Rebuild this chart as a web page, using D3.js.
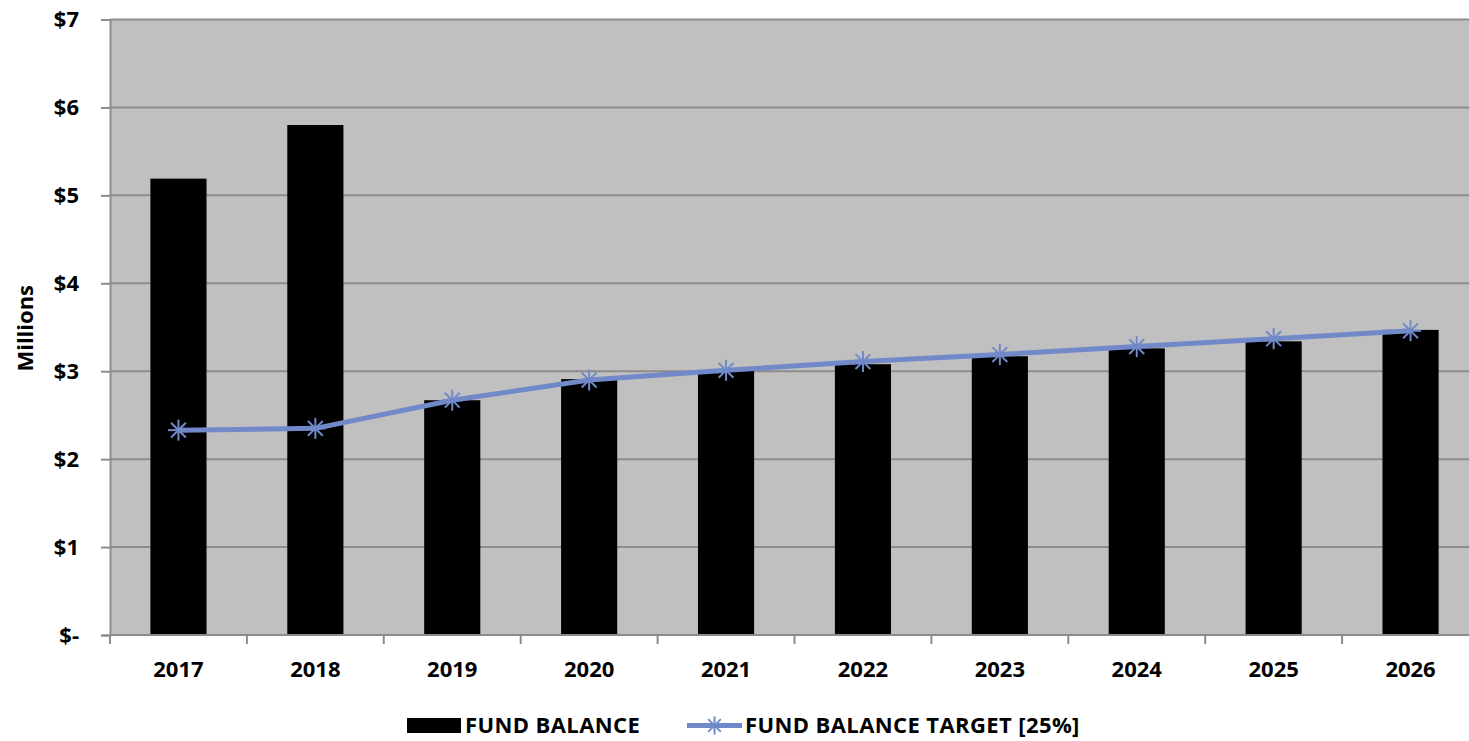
<!DOCTYPE html>
<html>
<head>
<meta charset="utf-8">
<script src="https://cdnjs.cloudflare.com/ajax/libs/d3/7.8.5/d3.min.js"></script>
<style>
  body { margin: 0; background: #fff; }
  text { font-family: "Open Sans", sans-serif; font-weight: bold; fill: #000; }
</style>
</head>
<body>
<div id="chart"></div>
<script>
var width = 1469;
var height = 741;

var years = ["2017", "2018", "2019", "2020", "2021", "2022", "2023", "2024", "2025", "2026"];
// millions
var fundBalance = [5.19, 5.80, 2.67, 2.91, 3.01, 3.08, 3.17, 3.26, 3.34, 3.47];
var fundTarget = [2.33, 2.35, 2.67, 2.90, 3.01, 3.11, 3.19, 3.28, 3.37, 3.46];
var yTicks = [0, 1, 2, 3, 4, 5, 6, 7];

var margin = {left: 110, right: -10, top: 19.5, bottom: 106};

var lineColor = "#7189c9";
var gridColor = "#8c8c8c";

var svg = d3.select("#chart").append("svg")
  .attr("width", width)
  .attr("height", height);

var x = d3.scaleBand()
  .domain(years)
  .range([margin.left, width - margin.right])
  .paddingInner(0.59)
  .paddingOuter(0.295);

var y = d3.scaleLinear()
  .domain([0, 7])
  .range([height - margin.bottom, margin.top]);

// plot background
svg.append("rect")
  .attr("x", margin.left)
  .attr("y", margin.top)
  .attr("width", width - margin.right - margin.left)
  .attr("height", y(0) - margin.top)
  .attr("fill", "#c0c0c0");

// gridlines
svg.selectAll(".grid")
  .data(yTicks.filter(function(d) { return d > 0; }))
  .enter().append("line")
    .attr("class", "grid")
    .attr("x1", margin.left)
    .attr("x2", width - margin.right)
    .attr("y1", function(d) { return y(d); })
    .attr("y2", function(d) { return y(d); })
    .attr("stroke", gridColor)
    .attr("stroke-width", 2);

// bars
svg.selectAll(".bar")
  .data(fundBalance)
  .enter().append("rect")
    .attr("class", "bar")
    .attr("x", function(d, i) { return x(years[i]); })
    .attr("width", x.bandwidth())
    .attr("y", function(d) { return y(d); })
    .attr("height", function(d) { return y(0) - y(d); })
    .attr("fill", "#000");

// y axis
var yAxis = svg.append("g")
  .attr("transform", "translate(" + margin.left + ",0)")
  .call(d3.axisLeft(y).tickValues(yTicks).tickSize(9).tickPadding(22)
    .tickFormat(function(d) { return d === 0 ? "$-" : "$" + d; }));
yAxis.select(".domain").attr("stroke", gridColor).attr("stroke-width", 2);
yAxis.selectAll(".tick line").attr("stroke", gridColor).attr("stroke-width", 2);
yAxis.selectAll(".tick text").style("font-size", "22px").attr("fill", "#000");

// x axis, ticks at category boundaries
var step = x.step();
var bounds = years.map(function(d) { return x(d) + x.bandwidth() / 2 - step / 2; });
var xAxisG = svg.append("g");
xAxisG.append("line")
  .attr("x1", margin.left)
  .attr("x2", width - margin.right)
  .attr("y1", y(0))
  .attr("y2", y(0))
  .attr("stroke", gridColor)
  .attr("stroke-width", 2);
xAxisG.selectAll(".xtick")
  .data(bounds)
  .enter().append("line")
    .attr("x1", function(d) { return d; })
    .attr("x2", function(d) { return d; })
    .attr("y1", y(0))
    .attr("y2", y(0) + 9)
    .attr("stroke", gridColor)
    .attr("stroke-width", 2);
xAxisG.selectAll(".xlabel")
  .data(years)
  .enter().append("text")
    .attr("x", function(d) { return x(d) + x.bandwidth() / 2; })
    .attr("y", y(0) + 42)
    .attr("text-anchor", "middle")
    .style("font-size", "22px")
    .text(function(d) { return d; });

// y axis title
svg.append("text")
  .attr("transform", "translate(33," + ((margin.top + y(0)) / 2 + 1) + ") rotate(-90)")
  .attr("text-anchor", "middle")
  .style("font-size", "22px")
  .text("Millions");

// target line
var line = d3.line()
  .x(function(d, i) { return x(years[i]) + x.bandwidth() / 2; })
  .y(function(d) { return y(d); });

svg.append("path")
  .datum(fundTarget)
  .attr("d", line)
  .attr("fill", "none")
  .attr("stroke", lineColor)
  .attr("stroke-width", 5)
  .attr("stroke-linejoin", "round");

// asterisk markers
function asterisk(g, r) {
  for (var k = 0; k < 4; k++) {
    var a = k * Math.PI / 4;
    g.append("line")
      .attr("x1", -r * Math.cos(a)).attr("y1", -r * Math.sin(a))
      .attr("x2", r * Math.cos(a)).attr("y2", r * Math.sin(a));
  }
}
svg.selectAll(".marker")
  .data(fundTarget)
  .enter().append("g")
    .attr("class", "marker")
    .attr("transform", function(d, i) {
      return "translate(" + (x(years[i]) + x.bandwidth() / 2) + "," + y(d) + ")";
    })
    .attr("stroke", lineColor)
    .attr("stroke-width", 2)
    .each(function() { asterisk(d3.select(this), 10.5); });

// legend
var legend = svg.append("g");
legend.append("rect")
  .attr("x", 407).attr("y", 718)
  .attr("width", 54).attr("height", 15)
  .attr("fill", "#000");
legend.append("text")
  .attr("x", 465).attr("y", 733)
  .style("font-size", "22px")
  .style("letter-spacing", "0.4px")
  .text("FUND BALANCE");
legend.append("line")
  .attr("x1", 687).attr("x2", 742)
  .attr("y1", 725.5).attr("y2", 725.5)
  .attr("stroke", lineColor)
  .attr("stroke-width", 5);
var lm = legend.append("g")
  .attr("transform", "translate(714.5,725.5)")
  .attr("stroke", lineColor)
  .attr("stroke-width", 2);
asterisk(lm, 9);
legend.append("text")
  .attr("x", 745).attr("y", 733)
  .style("font-size", "22px")
  .style("letter-spacing", "0.4px")
  .text("FUND BALANCE TARGET [25%]");
</script>
</body>
</html>
